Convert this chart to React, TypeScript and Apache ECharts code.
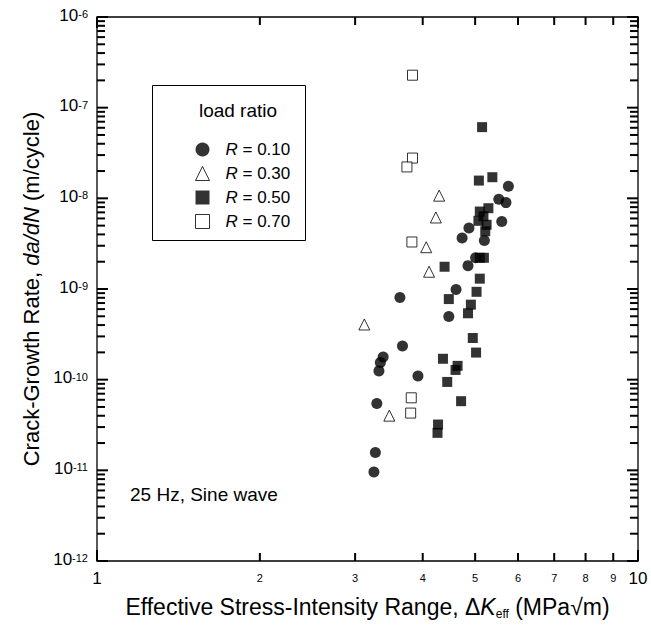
import React, { useEffect, useRef } from "react";
import * as echarts from "echarts";

// ---- data ----
const seriesNames = ["R = 0.10", "R = 0.30", "R = 0.50", "R = 0.70"];

const r010K = [5.76, 5.53, 5.70, 5.60, 4.87, 4.73, 5.20, 5.01, 4.85, 4.61, 3.63, 4.47, 3.67, 3.38, 3.34, 3.32, 3.92, 3.29, 3.27, 3.25];
const r010Rate = [1.36e-8, 9.75e-9, 8.97e-9, 5.56e-9, 4.7e-9, 3.66e-9, 3.42e-9, 2.21e-9, 1.81e-9, 9.88e-10, 8.07e-10, 4.97e-10, 2.35e-10, 1.78e-10, 1.55e-10, 1.25e-10, 1.1e-10, 5.47e-11, 1.57e-11, 9.6e-12];

const r030K = [4.29, 4.23, 4.06, 4.11, 3.12, 3.47];
const r030Rate = [1.07e-8, 6.15e-9, 2.89e-9, 1.55e-9, 4.06e-10, 4.01e-11];

const r050K = [5.15, 5.08, 5.38, 5.29, 5.10, 5.07, 5.25, 5.22, 5.18, 5.10, 5.19, 4.39, 5.10, 5.03, 4.47, 4.91, 4.85, 4.95, 5.02, 4.36, 4.64, 4.60, 4.44, 4.71, 4.27, 4.26];
const r050Rate = [6.1e-8, 1.57e-8, 1.71e-8, 7.78e-9, 7.15e-9, 5.65e-9, 5.11e-9, 4.33e-9, 6.35e-9, 2.21e-9, 2.21e-9, 1.76e-9, 1.3e-9, 9.31e-10, 7.74e-10, 6.72e-10, 5.4e-10, 2.88e-10, 1.99e-10, 1.7e-10, 1.42e-10, 1.28e-10, 9.44e-11, 5.79e-11, 3.2e-11, 2.59e-11];

const r070K = [3.83, 3.83, 3.74, 3.82, 3.81, 3.80];
const r070Rate = [2.28e-7, 2.78e-8, 2.22e-8, 3.3e-9, 6.31e-11, 4.28e-11];

const xMin = 1;
const xMax = 10;
const yMin = 1e-12;
const yMax = 1e-6;
const xTickMults = [1, 2, 3, 4, 5, 6, 7, 8, 9, 10];
const xMinorLabels = ["2", "3", "4", "5", "6", "7", "8", "9"];
const yDecades = [-12, -11, -10, -9, -8, -7];
const yMults = [1, 2, 3, 4, 5, 6, 7, 8, 9];

const FONT = "Liberation Sans, Arial, Helvetica, sans-serif";

function pairs(xs: number[], ys: number[]) {
  return xs.map((x, i) => [x, ys[i]]);
}

export default function App() {
  const ref = useRef<HTMLDivElement>(null);
  useEffect(() => {
    const chart = echarts.init(ref.current!, null, { renderer: "svg" });
    const open = { color: "#fff", borderColor: "#000", borderWidth: 1 };
    const filled = { color: "#000", borderColor: "#000", borderWidth: 0 };

    // tick rows: [x, y, majorFlag] - all values positive so the log axes accept them
    const xTicks = xTickMults.map((m) => [m, 1e-9, m === 1 || m === 10 ? 2 : 1]);
    const yTicks: number[][] = [];
    yDecades.forEach((d) => yMults.forEach((m) => yTicks.push([2, m * Math.pow(10, d), m === 1 ? 2 : 1])));
    yTicks.push([2, yMax, 2]);

    const option: any = {
      animation: false,
      backgroundColor: "#fff",
      textStyle: { fontFamily: FONT },
      grid: {
        left: 97,
        top: 17,
        width: 541,
        height: 549,
        show: true,
        borderColor: "#000",
        borderWidth: 1.3,
        backgroundColor: "transparent",
      },
      xAxis: {
        type: "log",
        logBase: 10,
        min: xMin,
        max: xMax,
        axisLine: { show: false },
        axisTick: { show: false },
        splitLine: { show: false },
        axisLabel: {
          color: "#000",
          fontSize: 17,
          fontFamily: FONT,
          margin: 9,
          formatter: (v: number) => (Math.abs(v - 1) < 1e-9 ? "1" : Math.abs(v - 10) < 1e-9 ? "10" : ""),
        },
        name: "Effective Stress-Intensity Range, {n|Δ}{i|K}{sub|eff}{n| (MPa√m)}",
        nameLocation: "middle",
        nameGap: 33,
        nameTextStyle: {
          color: "#000",
          fontSize: 23,
          fontFamily: FONT,
          rich: {
            n: { fontSize: 23, fontFamily: FONT, color: "#000", lineHeight: 26 },
            i: { fontSize: 23, fontFamily: FONT, fontStyle: "italic", color: "#000", lineHeight: 26 },
            sub: { fontSize: 12, fontFamily: FONT, color: "#000", verticalAlign: "bottom", lineHeight: 14 },
          },
        },
      },
      yAxis: {
        type: "log",
        logBase: 10,
        min: yMin,
        max: yMax,
        axisLine: { show: false },
        axisTick: { show: false },
        splitLine: { show: false },
        axisLabel: {
          color: "#000",
          margin: 9,
          formatter: (v: number) => `{b|10}{s|${Math.round(Math.log10(v))}}`,
          rich: {
            b: { fontSize: 17, fontFamily: FONT, color: "#000", lineHeight: 17, verticalAlign: "bottom", padding: [0, 0, 2, 0] },
            s: { fontSize: 11, fontFamily: FONT, color: "#000", lineHeight: 11, verticalAlign: "top", padding: [0, 0, 10, 0] },
          },
        },
        name: "Crack-Growth Rate, {i|da/dN} (m/cycle)",
        nameLocation: "middle",
        nameGap: 52,
        nameTextStyle: {
          color: "#000",
          fontSize: 22,
          fontFamily: FONT,
          rich: {
            i: { fontSize: 22, fontFamily: FONT, fontStyle: "italic", color: "#000" },
          },
        },
      },
      legend: {
        orient: "vertical",
        left: 190,
        top: 136,
        itemWidth: 14,
        itemHeight: 14,
        itemGap: 7,
        selectedMode: false,
        data: [
          { name: seriesNames[0], icon: "circle", itemStyle: filled },
          { name: seriesNames[1], icon: "triangle", itemStyle: open },
          { name: seriesNames[2], icon: "rect", itemStyle: filled },
          { name: seriesNames[3], icon: "rect", itemStyle: open },
        ],
        formatter: (n: string) => `{i|R}{t| = ${n.split("= ")[1]}}`,
        textStyle: {
          color: "#000",
          fontSize: 17,
          fontFamily: FONT,
          rich: {
            i: { fontSize: 17, fontFamily: FONT, fontStyle: "italic", color: "#000", lineHeight: 20, padding: [0, 0, 0, 11] },
            t: { fontSize: 17, fontFamily: FONT, color: "#000", lineHeight: 20 },
          },
        },
      },
      series: [
        {
          name: seriesNames[0],
          type: "scatter",
          symbol: "circle",
          symbolSize: 11,
          itemStyle: filled,
          data: pairs(r010K, r010Rate),
          z: 3,
        },
        {
          name: seriesNames[1],
          type: "scatter",
          symbol: "triangle",
          symbolSize: 11,
          itemStyle: open,
          data: pairs(r030K, r030Rate),
          z: 4,
        },
        {
          name: seriesNames[2],
          type: "scatter",
          symbol: "rect",
          symbolSize: 10,
          itemStyle: filled,
          data: pairs(r050K, r050Rate),
          z: 3,
        },
        {
          name: seriesNames[3],
          type: "scatter",
          symbol: "rect",
          symbolSize: 10,
          itemStyle: open,
          data: pairs(r070K, r070Rate),
          z: 4,
        },
        {
          name: "xTicks",
          type: "custom",
          silent: true,
          clip: false,
          z: 6,
          data: xTicks,
          encode: { x: 0, y: 1 },
          renderItem: (params: any, api: any) => {
            const v = api.value(0);
            const len = api.value(2) > 1 ? 11 : 8;
            const pb = api.coord([v, yMin]);
            const pt = api.coord([v, yMax]);
            return {
              type: "group",
              children: [
                { type: "line", shape: { x1: pb[0], y1: pb[1], x2: pb[0], y2: pb[1] - len }, style: { stroke: "#000", lineWidth: 2 } },
                { type: "line", shape: { x1: pt[0], y1: pt[1], x2: pt[0], y2: pt[1] + len }, style: { stroke: "#000", lineWidth: 2 } },
              ],
            };
          },
        },
        {
          name: "xMinorLabels",
          type: "custom",
          silent: true,
          clip: false,
          z: 6,
          data: xMinorLabels.map((t) => [Number(t), 1e-9]),
          encode: { x: 0, y: 1 },
          renderItem: (params: any, api: any) => {
            const v = api.value(0);
            const p = api.coord([v, yMin]);
            return {
              type: "text",
              x: p[0],
              y: p[1] + 17,
              style: { text: String(v), fontSize: 11, fontFamily: FONT, fill: "#000", align: "center", verticalAlign: "middle" },
            };
          },
        },
        {
          name: "yTicks",
          type: "custom",
          silent: true,
          clip: false,
          z: 6,
          data: yTicks,
          encode: { x: 0, y: 1 },
          renderItem: (params: any, api: any) => {
            const v = api.value(1);
            const len = api.value(2) > 1 ? 11 : 8;
            const pl = api.coord([xMin, v]);
            const pr = api.coord([xMax, v]);
            return {
              type: "group",
              children: [
                { type: "line", shape: { x1: pl[0], y1: pl[1], x2: pl[0] + len, y2: pl[1] }, style: { stroke: "#000", lineWidth: 2 } },
                { type: "line", shape: { x1: pr[0], y1: pr[1], x2: pr[0] - len, y2: pr[1] }, style: { stroke: "#000", lineWidth: 2 } },
              ],
            };
          },
        },
      ],
      graphic: [
        {
          type: "rect",
          silent: true,
          shape: { x: 152.5, y: 85.5, width: 153, height: 155 },
          style: { fill: "none", stroke: "#000", lineWidth: 1 },
        },
        {
          type: "text",
          silent: true,
          x: 238,
          y: 110,
          style: { text: "load ratio", fontSize: 19, fontFamily: FONT, fill: "#000", align: "center", verticalAlign: "middle" },
        },
        {
          type: "text",
          silent: true,
          x: 130,
          y: 494,
          style: { text: "25 Hz, Sine wave", fontSize: 19, fontFamily: FONT, fill: "#000", align: "left", verticalAlign: "middle" },
        },
      ],
    };
    chart.setOption(option);

    return () => chart.dispose();
  }, []);
  return <div ref={ref} style={{ position: "fixed", left: 0, top: 0, width: 651, height: 625 }} />;
}
